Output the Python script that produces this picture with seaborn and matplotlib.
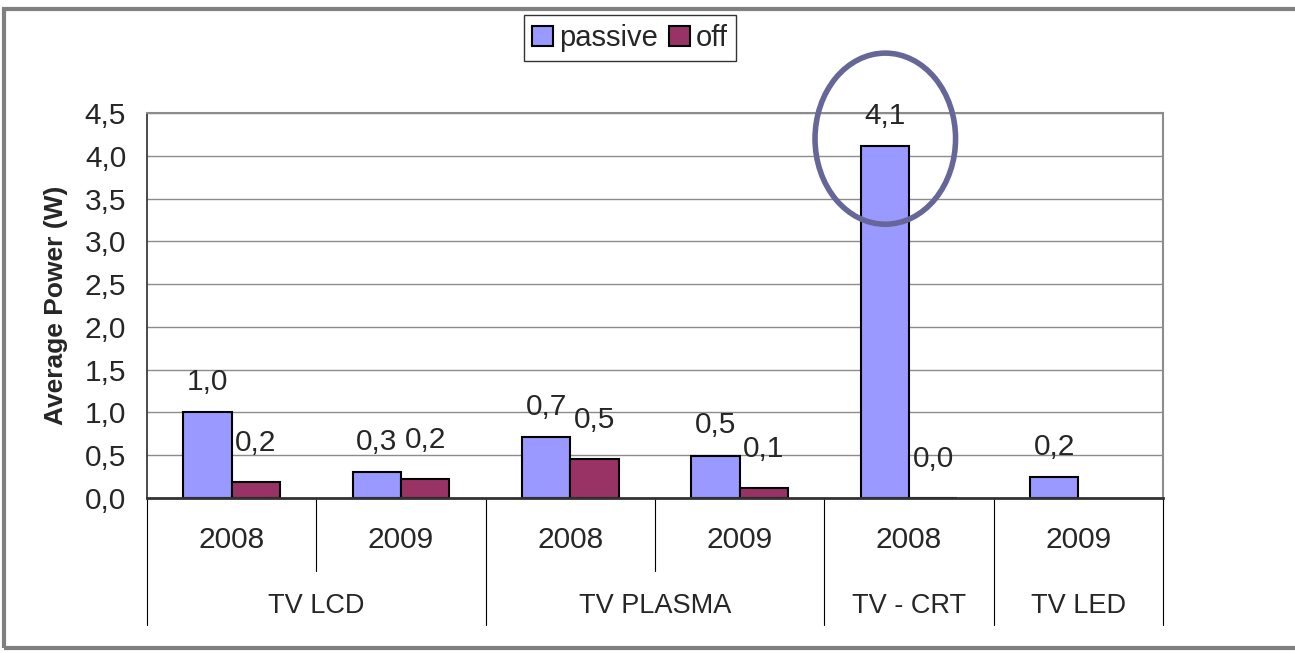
import numpy as np
import pandas as pd
import seaborn as sns
import matplotlib.pyplot as plt
from matplotlib.patches import Ellipse, Rectangle

# chart values
groups = ["TV LCD", "TV LCD", "TV PLASMA", "TV PLASMA", "TV - CRT", "TV LED"]
years = ["2008", "2009", "2008", "2009", "2008", "2009"]
passive = [1.0, 0.30, 0.71, 0.49, 4.11, 0.24]
off = [0.19, 0.22, 0.46, 0.12, 0.0, np.nan]
series = ["passive", "off"]
group_labels = ["TV LCD", "TV PLASMA", "TV - CRT", "TV LED"]

PALETTE = {"passive": "#9999FF", "off": "#993366"}

slots = [f"{g} {y}" for g, y in zip(groups, years)]
df = pd.DataFrame({
    "slot": slots * 2,
    "series": ["passive"] * len(slots) + ["off"] * len(slots),
    "value": passive + off,
})

sns.set_theme(style="white")
plt.rcParams["font.family"] = ["Liberation Sans", "DejaVu Sans"]

fig = plt.figure(figsize=(12.95, 6.53), dpi=100)
ax = fig.add_axes([147 / 1295, 1 - 498 / 653, (1163 - 147) / 1295, (498 - 113) / 653])

sns.barplot(
    data=df, x="slot", y="value", hue="series",
    order=slots, hue_order=series, palette=PALETTE,
    width=0.57, edgecolor="black", linewidth=1.5,
    saturation=1, errorbar=None, legend=True, ax=ax,
)

# value labels with comma decimals
for cont, pad in zip(ax.containers, [12, 18]):
    labs = ["" if np.isnan(v) else f"{v:.1f}".replace(".", ",") for v in cont.datavalues]
    ax.bar_label(cont, labels=labs, padding=pad, fontsize=21.5)

ax.set_ylim(0, 4.5)
ax.set_xlim(-0.5, len(slots) - 0.5)
ticks = np.arange(0, 4.51, 0.5)
ax.set_yticks(ticks)
ax.set_yticklabels([f"{t:.1f}".replace(".", ",") for t in ticks], fontsize=21.5)
ax.tick_params(axis="y", direction="out", length=5, width=1, color="#333333", pad=10)
ax.set_xticks([])
ax.set_xlabel("")
ax.set_ylabel("Average Power (W)", fontsize=19, fontweight="bold", labelpad=12)
ax.yaxis.grid(True, color="#8c8c8c", linewidth=1)
ax.set_axisbelow(True)
for side in ["top", "right"]:
    ax.spines[side].set_color("#8c8c8c")
    ax.spines[side].set_linewidth(1.5)
ax.spines["left"].set_color("#333333")
ax.spines["bottom"].set_color("#333333")
ax.spines["bottom"].set_linewidth(2)

# two-level category axis below the plot
trans = ax.get_xaxis_transform()
for i, y in enumerate(years):
    ax.text(i, -0.11, y, transform=trans, ha="center", va="center", fontsize=21.5)
for xb in [0.5, 2.5]:
    ax.plot([xb, xb], [0, -0.19], transform=trans, color="black", lw=0.8, clip_on=False)
for xb in [-0.5, 1.5, 3.5, 4.5, 5.5]:
    ax.plot([xb, xb], [0, -0.33], transform=trans, color="black", lw=0.8, clip_on=False)
for g in group_labels:
    pos = [i for i, gg in enumerate(groups) if gg == g]
    ax.text(np.mean(pos), -0.28, g, transform=trans, ha="center", va="center", fontsize=19.5)

# highlight ellipse around the CRT bar
ax.add_patch(Ellipse((3.86, 4.2), 0.83, 2.0, fill=False, edgecolor="#666699",
                     linewidth=4, clip_on=False, zorder=5))

# legend at the top
handles, labels = ax.get_legend_handles_labels()
ax.get_legend().remove()
leg = fig.legend(handles, labels, loc="center", bbox_to_anchor=(630 / 1295, 1 - 38 / 653),
                 ncol=2, fontsize=21, frameon=True, fancybox=False,
                 handlelength=0.7, handleheight=0.7, handletextpad=0.2,
                 columnspacing=0.4, borderpad=0.3)
leg.get_frame().set_edgecolor("black")
leg.get_frame().set_linewidth(1)

# outer frame
fig.patches.append(Rectangle((4 / 1295, 5 / 653), 1.05, 1 - 14 / 653,
                             transform=fig.transFigure, fill=False,
                             edgecolor="#808080", linewidth=3, clip_on=False))

fig.savefig("out.png", dpi=100)
